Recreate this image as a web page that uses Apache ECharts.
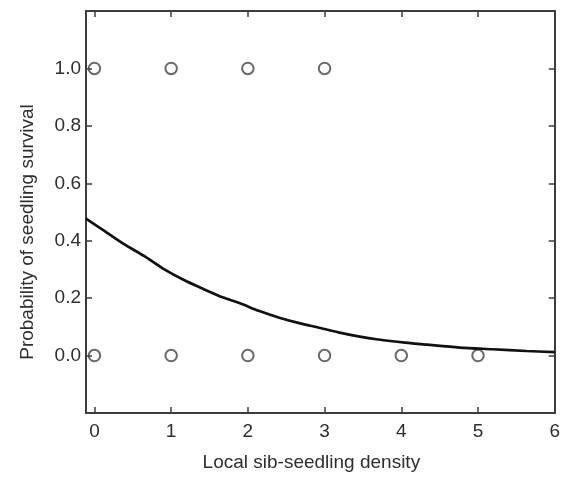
<!DOCTYPE html>
<html>
<head>
<meta charset="utf-8">
<script src="https://cdn.jsdelivr.net/npm/echarts@6/dist/echarts.min.js"></script>
<style>
  html, body { margin: 0; padding: 0; background: #fff; }
  #chart { width: 563px; height: 477px; }
</style>
</head>
<body>
<div id="chart"></div>
<script>
// Observed seedlings: survived (1) and died (0) by local sib-seedling density
const survivedDensity = [0, 1, 2, 3];
const survivedValue = [1, 1, 1, 1];
const diedDensity = [0, 1, 2, 3, 4, 5];
const diedValue = [0, 0, 0, 0, 0, 0];

// Fitted survival probability curve
const fitDensity = [-0.11, 0.12, 0.38, 0.64, 0.9, 1.16, 1.42, 1.68, 1.89, 2.15, 2.41,
  2.67, 2.93, 3.18, 3.44, 3.7, 4.05, 4.33, 4.76, 5.19, 5.63, 6.0];
const fitProbability = [0.477, 0.436, 0.389, 0.348, 0.302, 0.264, 0.232, 0.202, 0.183, 0.155, 0.132,
  0.113, 0.097, 0.081, 0.067, 0.056, 0.045, 0.038, 0.028, 0.022, 0.016, 0.012];

// Tick positions and labels
const xTicks = [0, 1, 2, 3, 4, 5];
const xLabels = [0, 1, 2, 3, 4, 5, 6];
const yTicks = [0, 0.2, 0.4, 0.6, 0.8, 1.0];

const zip = (xs, ys) => xs.map((x, i) => [x, ys[i]]);

const FONT = '"Liberation Sans", Arial, Helvetica, sans-serif';
const AXIS_COLOR = '#3c3c3c';
const TEXT_COLOR = '#2e2e2e';

const chart = echarts.init(document.getElementById('chart'), null, { renderer: 'canvas' });

const frameLine = { show: true, onZero: false, lineStyle: { color: AXIS_COLOR, width: 2 } };

chart.setOption({
  animation: false,
  backgroundColor: '#fff',
  grid: { left: 86, right: 7, top: 11, bottom: 64, containLabel: false },
  xAxis: [
    {
      type: 'value', position: 'bottom', min: -0.11, max: 6,
      axisLine: frameLine,
      axisTick: { show: true, inside: true, length: 6, customValues: xTicks,
        lineStyle: { color: AXIS_COLOR, width: 1.5 } },
      axisLabel: { show: true, customValues: xLabels, margin: 9,
        color: TEXT_COLOR, fontSize: 19, fontFamily: FONT },
      splitLine: { show: false },
      name: 'Local sib-seedling density', nameLocation: 'middle', nameGap: 40,
      nameTextStyle: { color: TEXT_COLOR, fontSize: 19, fontFamily: FONT, padding: [0, 18, 0, 0] }
    },
    {
      type: 'value', position: 'top', min: -0.11, max: 6,
      axisLine: frameLine,
      axisTick: { show: true, inside: true, length: 6, customValues: xTicks,
        lineStyle: { color: AXIS_COLOR, width: 1.5 } },
      axisLabel: { show: false },
      splitLine: { show: false }
    }
  ],
  yAxis: [
    {
      type: 'value', position: 'left', min: -0.2, max: 1.2,
      axisLine: frameLine,
      axisTick: { show: true, inside: true, length: 6, customValues: yTicks,
        lineStyle: { color: AXIS_COLOR, width: 1.5 } },
      axisLabel: { show: true, customValues: yTicks, margin: 5,
        formatter: v => v.toFixed(1),
        color: TEXT_COLOR, fontSize: 19, fontFamily: FONT },
      splitLine: { show: false },
      name: 'Probability of seedling survival', nameLocation: 'middle', nameGap: 49,
      nameTextStyle: { color: TEXT_COLOR, fontSize: 19, fontFamily: FONT, padding: [0, 40, 0, 0] }
    },
    {
      type: 'value', position: 'right', min: -0.2, max: 1.2,
      axisLine: frameLine,
      axisTick: { show: true, inside: true, length: 6, customValues: yTicks,
        lineStyle: { color: AXIS_COLOR, width: 1.5 } },
      axisLabel: { show: false },
      splitLine: { show: false }
    }
  ],
  series: [
    {
      name: 'Fitted survival', type: 'line', xAxisIndex: 0, yAxisIndex: 0,
      data: zip(fitDensity, fitProbability),
      showSymbol: false, smooth: 0.3,
      lineStyle: { color: '#111', width: 2.7 },
      z: 3
    },
    {
      name: 'Survived', type: 'scatter', xAxisIndex: 0, yAxisIndex: 0,
      data: zip(survivedDensity, survivedValue),
      symbol: 'circle', symbolSize: 11.5,
      itemStyle: { color: 'rgba(255,255,255,0)', borderColor: '#444', borderWidth: 2 },
      z: 2
    },
    {
      name: 'Died', type: 'scatter', xAxisIndex: 0, yAxisIndex: 0,
      data: zip(diedDensity, diedValue),
      symbol: 'circle', symbolSize: 11.5,
      itemStyle: { color: 'rgba(255,255,255,0)', borderColor: '#444', borderWidth: 2 },
      z: 2
    }
  ]
});
</script>
</body>
</html>
